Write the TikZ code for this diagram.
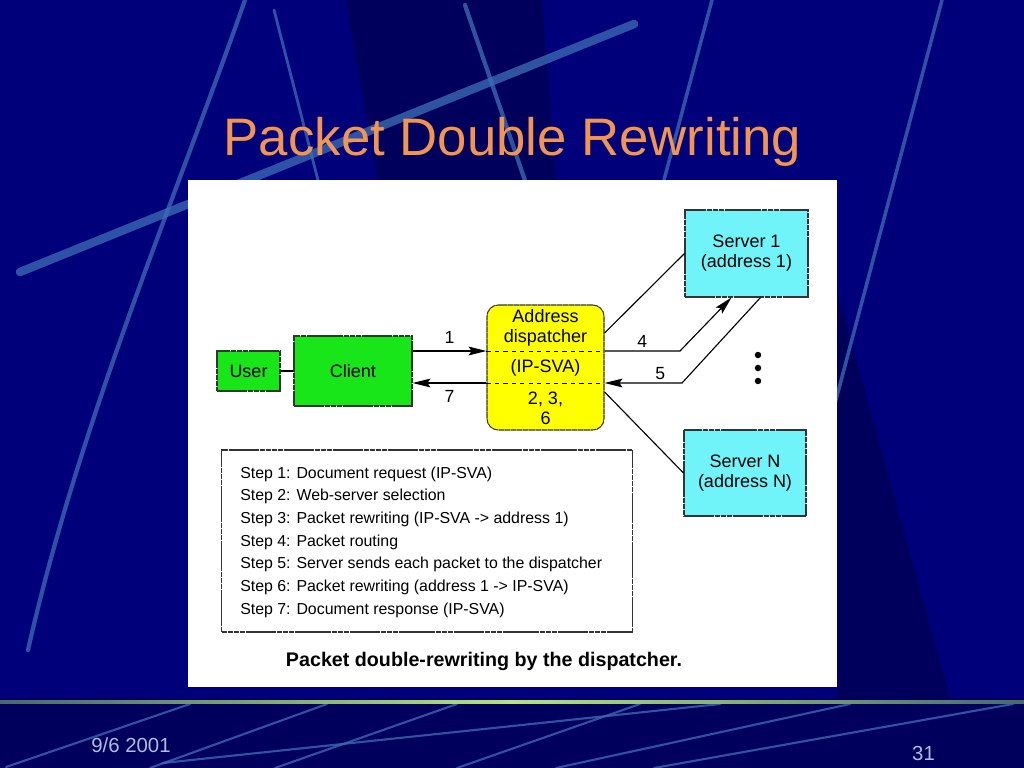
\documentclass[tikz,border=0pt]{standalone}
\usepackage{fontspec}
\setmainfont{Liberation Sans}
\usetikzlibrary{arrows.meta}
\definecolor{slidenavy}{RGB}{0,0,122}
\definecolor{slidedark}{RGB}{0,0,92}
\definecolor{streak}{RGB}{62,112,182}
\definecolor{ruleend}{RGB}{70,105,110}
\definecolor{rulemid}{RGB}{180,230,120}
\definecolor{titleorange}{RGB}{240,150,82}
\definecolor{footgray}{RGB}{176,188,222}
\definecolor{usergreen}{RGB}{24,230,24}
\definecolor{dispyellow}{RGB}{255,255,0}
\definecolor{servercyan}{RGB}{112,244,250}
\tikzset{node distance=2.0cm, auto,
  box/.style 2 args={draw=black!80, line width=0.75pt, dash pattern=on 4pt off 0.35pt,
    minimum width=#1*0.025cm, minimum height=#2*0.025cm, inner sep=0pt, align=center,
    font=\fontsize{12.8}{14.2}\selectfont},
  streakline/.style={draw=streak, line width=#1, opacity=0.75, line cap=round},
  streakline/.default=2pt,
  link/.style={draw=black, line width=0.8pt},
  flow/.style={link, -{Stealth[length=4.5mm,width=2.2mm,inset=0.8mm]}},
  steplabel/.style={font=\fontsize{12.5}{14}\selectfont, inner sep=1pt},
  boxtext/.style={align=center, font=\fontsize{12.8}{14.2}\selectfont, inner sep=0pt}
}

\begin{document}
\begin{tikzpicture}[x=0.025cm, y=-0.025cm]
\useasboundingbox (0,0) rectangle (1024,768);
% slide background
\fill[slidenavy] (0,0) rectangle (1024,768);
\fill[slidedark] (346,0) -- (542,0) -- (575,420) -- (420,420) -- cycle;
\fill[slidedark] (837,290) -- (950,698) -- (837,698) -- cycle;
\fill[slidedark] (0,698) rectangle (1024,768);
\draw[streakline=3pt] (245,0) .. controls (175,200) and (80,420) .. (28,650);
\draw[streakline] (274,10) -- (380,420);
\draw[streakline=6pt] (634,24) -- (20,272);
\draw[streakline=3pt] (465,5) -- (600,400);
\draw[streakline=2.5pt] (712,0) -- (600,420);
\draw[streakline=2.5pt] (942,0) -- (820,460);
\foreach \xa/\ya/\xb/\yb in {6/767/190/704, 150/768/327/704, 275/768/457/704,
    163/763/720/704, 457/768/640/704, 556/768/850/704, 654/768/1013/704}
  \draw[streakline=1.5pt] (\xa,\ya) -- (\xb,\yb);
\shade[left color=ruleend, right color=ruleend, middle color=rulemid] (0,700) rectangle (1024,703);

\node[font=\fontsize{37.5}{40}\selectfont, text=titleorange, anchor=base] (title) at (512.5,155) {Packet Double Rewriting};
\fill[white] (188,180) rectangle (837,687);

% boxes
\node[box={63}{40}, fill=usergreen] (user) at (248.5,371) {User};
\node[box={118}{70}, fill=usergreen] (client) at (353,371) {Client};
\node[box={117}{125}, fill=dispyellow, rounded corners=8pt] (disp) at (545.5,367.5) {};
\node[box={123}{87}, fill=servercyan] (srv1) at (746.5,253.5) {Server 1\\(address 1)};
\node[box={122}{86}, fill=servercyan] (srvN) at (745,473) {Server N\\(address N)};

% dispatcher sections
\coordinate (req) at (0,351);
\coordinate (resp) at (0,383);
\draw[dashed, line width=0.7pt] (req -| disp.west) -- (req -| disp.east);
\draw[dashed, line width=0.7pt] (resp -| disp.west) -- (resp -| disp.east);
\node[boxtext] (dispname) at (545.5,328) {Address\\dispatcher};
\node[boxtext] (dispaddr) at (545.5,368) {(IP-SVA)};
\node[boxtext] (dispsteps) at (545.5,408.5) {2, 3,\\6};

% connectors
\coordinate (bend4) at (680,351);
\coordinate (bend5) at (682,383);
\draw[link] (user.east) -- (client.west);
\draw[flow] (req -| client.east) -- node[steplabel, above=4pt] {1} (req -| disp.west);
\draw[flow] (resp -| disp.west) -- node[steplabel, below=4pt] {7} (resp -| client.east);
\draw[flow] (req -| disp.east) -- node[steplabel, above=1pt] {4} (bend4) -- ([xshift=-0.375cm]srv1.south);
\draw[flow] ([xshift=0.35cm]srv1.south) -- (bend5) -- node[steplabel, above=1pt, pos=0.28] {5} (resp -| disp.east);
\draw[link] ([yshift=0.86cm]disp.east) -- (srv1.west);
\draw[link] ([yshift=-0.61cm]disp.east) -- (srvN.west);
\foreach \dy in {355,368,381}
  \fill (758,\dy) circle[radius=2.3pt];

% step list
\node[box={411}{182}, fill=white] (stepbox) at (427,541) {};
\foreach \txt [count=\i] in {Step 1: Document request (IP-SVA),
    Step 2: Web-server selection,
    Step 3: Packet rewriting (IP-SVA -> address 1),
    Step 4: Packet routing,
    Step 5: Server sends each packet to the dispatcher,
    Step 6: Packet rewriting (address 1 -> IP-SVA),
    Step 7: Document response (IP-SVA)}
  \node[anchor=base west, font=\fontsize{11.3}{13}\selectfont, inner sep=0pt] (step\i) at (240,{478+22.7*(\i-1)}) {\txt};
\node[font=\bfseries\fontsize{14}{16}\selectfont, anchor=base] (caption) at (484,666) {Packet double-rewriting by the dispatcher.};

% footer
\node[text=footgray, font=\fontsize{14.5}{16}\selectfont, anchor=base west, inner sep=0pt] (date) at (91,752) {9/6 2001};
\node[text=footgray, font=\fontsize{14.5}{16}\selectfont, anchor=base, inner sep=0pt] (pagenum) at (923.5,760) {31};
\end{tikzpicture}
\end{document}
